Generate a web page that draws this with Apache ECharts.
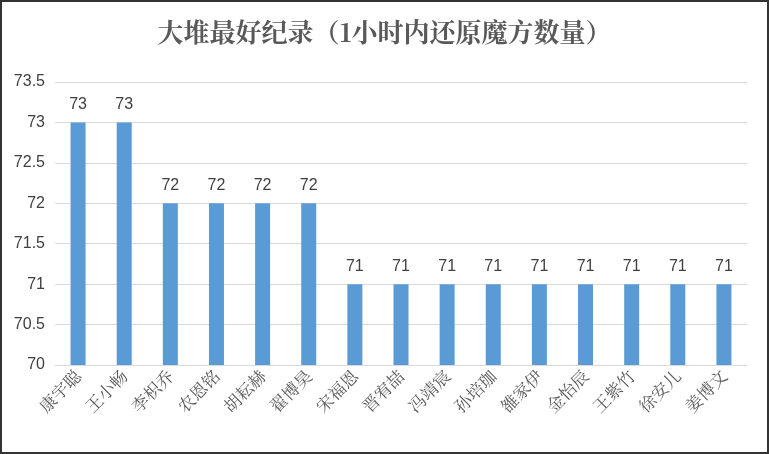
<!DOCTYPE html>
<html><head><meta charset="utf-8">
<script src="https://cdn.jsdelivr.net/npm/echarts@6/dist/echarts.min.js"></script>
<style>html,body{margin:0;padding:0;background:#fff}#c{width:765px;height:450px;border:2px solid #333}</style>
</head><body><div id="c"></div>
<script>
const categories = ['康宇聪','王小畅','李枳乔','农恩铭','胡耘赫','翟博昊','宋福恩','晋宥喆','冯靖宸','孙培珈','雒家伊','金怡辰','王紫竹','徐安儿','姜博文'];
const values = [73,73,72,72,72,72,71,71,71,71,71,71,71,71,71];
const title = '大堆最好纪录（1小时内还原魔方数量）';
const chart = echarts.init(document.getElementById('c'));
chart.setOption({
  animation:false,
  title:{text:title,left:'center',top:12,textStyle:{fontSize:26,fontWeight:'bold',color:'#595959',fontFamily:'Noto Serif CJK SC, serif'}},
  grid:{left:53,right:20,top:80,bottom:87},
  xAxis:{type:'category',data:categories,
    axisLine:{lineStyle:{color:'#d9d9d9'}},axisTick:{show:false},
    axisLabel:{rotate:45,interval:0,color:'#595959',fontSize:17,fontFamily:'Noto Serif CJK SC, serif',margin:8}},
  yAxis:{type:'value',min:70,max:73.5,interval:0.5,
    axisLine:{show:false},axisTick:{show:false},
    splitLine:{lineStyle:{color:'#d9d9d9'}},
    axisLabel:{color:'#404040',fontSize:16,fontFamily:'Liberation Sans',margin:10,formatter:v=>String(v)}},
  series:[{type:'bar',data:values,barWidth:15,itemStyle:{color:'#5B9BD5'},
    label:{show:true,position:'top',color:'#404040',fontSize:16,fontFamily:'Liberation Sans',distance:10}}]
});
</script></body></html>
